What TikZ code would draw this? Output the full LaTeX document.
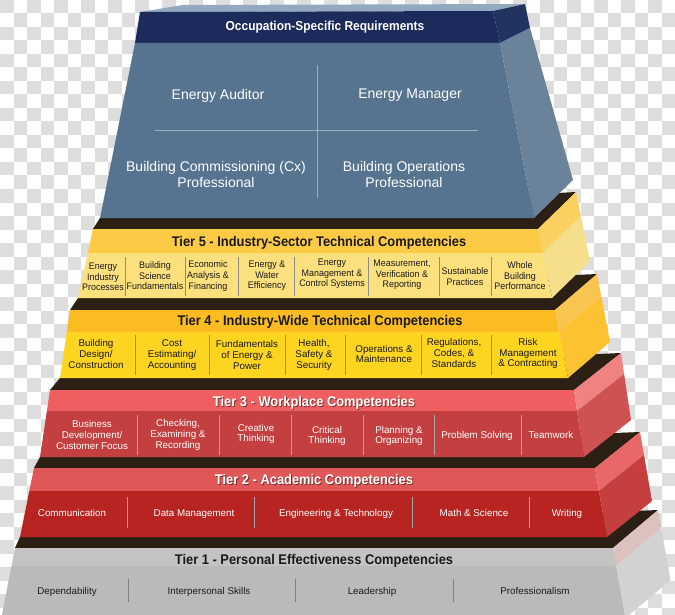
\documentclass[tikz,border=0pt]{standalone}
\usepackage{fontspec}
\setmainfont{Liberation Sans}
\newfontfamily\condf[FakeStretch=0.92]{Liberation Sans}
\newfontfamily\smallf[FakeStretch=0.94]{Liberation Sans}
\definecolor{chk}{HTML}{DDDDDD}
\definecolor{dk}{HTML}{2B2013}
\definecolor{t5h}{HTML}{FDCA45}
\definecolor{t5i}{HTML}{FDE07E}
\definecolor{t5su}{HTML}{FAD060}
\definecolor{t5sl}{HTML}{F5DF8C}
\definecolor{t4h}{HTML}{FBBC22}
\definecolor{t4i}{HTML}{FDD420}
\definecolor{t4su}{HTML}{F8C550}
\definecolor{t4sl}{HTML}{FCC232}
\definecolor{t3h}{HTML}{EF5F5F}
\definecolor{t3i}{HTML}{C43F3F}
\definecolor{t3su}{HTML}{F08282}
\definecolor{t3sl}{HTML}{CF5252}
\definecolor{t2h}{HTML}{DF5757}
\definecolor{t2i}{HTML}{B72422}
\definecolor{t2su}{HTML}{E86868}
\definecolor{t2sl}{HTML}{C63F3F}
\definecolor{t1h}{HTML}{C3C3C3}
\definecolor{t1i}{HTML}{BABABA}
\definecolor{t1su}{HTML}{DCC2BF}
\definecolor{t1sl}{HTML}{D2D2D2}
\definecolor{bltop}{HTML}{93A9BF}
\definecolor{navy}{HTML}{1C2B5B}
\definecolor{navys}{HTML}{22335F}
\definecolor{blf}{HTML}{56738F}
\definecolor{bls}{HTML}{6A839B}
\definecolor{blln}{HTML}{9DB0C3}
\definecolor{txtd}{HTML}{1A1A1A}
\begin{document}
\begin{tikzpicture}[x=1pt,y=-1pt,
  hd/.style={inner sep=0pt, anchor=base, font=\condf\bfseries\fontsize{14}{16}\selectfont},
  hdsh/.style={hd, text=black, opacity=0.45},
  itf/.style={inner sep=0pt, align=center, text=txtd, font=\smallf\fontsize{9.5}{10.6}\selectfont},
  itm/.style={inner sep=0pt, align=center, font=\fontsize{9.8}{10.7}\selectfont},
  itd/.style={itm, text=txtd},
  itw/.style={itm, text=white},
  one/.style={anchor=base},
  bt/.style={inner sep=0pt, align=center, text=white, font=\fontsize{14}{16}\selectfont},
  sepy/.style={draw=black!45, line width=0.9pt},
  sepr/.style={draw=black!35, line width=0.9pt},
  sepg/.style={draw=black!50, line width=0.9pt}]
\useasboundingbox (0,0) rectangle (675,615);
\clip (0,0) rectangle (675,615);
% checkerboard background
\fill[white] (0,0) rectangle (675,615);
\foreach \i in {0,2,...,48}{
  \foreach \j in {0,2,...,44}{
    \fill[chk] (\i*13.5,\j*13.5) rectangle ++(13.5,13.5);
    \fill[chk] (\i*13.5+13.5,\j*13.5+13.5) rectangle ++(13.5,13.5);
  }
}
% ---------------- Tier 1
\fill[dk] (15,548) -- (613,548) -- (658,510) -- (20,537) -- cycle;
\fill[t1h] (15,548) -- (613,548) -- (616.2,566) -- (11.5,566) -- cycle;
\fill[t1i] (11.5,566) -- (616.2,566) -- (625.5,618) -- (1.4,618) -- cycle;
\fill[t1su] (613,548) -- (658,510) -- (661.2,528) -- (616.2,566) -- cycle;
\fill[t1sl] (616.2,566) -- (661.2,528) -- (670.5,580) -- (625.5,618) -- cycle;
\foreach \x in {128,295,453}{\draw[sepg] (\x,579) -- (\x,602);}
\node[hd, text=txtd] (h1) at (314,564) {Tier 1 - Personal Effectiveness Competencies};
\node[itd, one] (a1) at (67,594.5) {Dependability};
\node[itd, one] (a2) at (209,594.5) {Interpersonal Skills};
\node[itd, one] (a3) at (372,594.5) {Leadership};
\node[itd, one] (a4) at (535,594.5) {Professionalism};
% ---------------- Tier 2
\fill[dk] (34,468) -- (595,468) -- (640,432) -- (40,457) -- cycle;
\fill[t2h] (34,468) -- (595,468) -- (599,491) -- (29.3,491) -- cycle;
\fill[t2i] (29.3,491) -- (599,491) -- (607,537) -- (20,537) -- cycle;
\fill[t2su] (595,468) -- (640,432) -- (644,455) -- (599,491) -- cycle;
\fill[t2sl] (599,491) -- (644,455) -- (652,501) -- (607,537) -- cycle;
\foreach \x in {127,254,412,529}{\draw[sepr] (\x,497) -- (\x,528);}
\node[hdsh] (h2s) at (315,485) {Tier 2 - Academic Competencies};
\node[hd, text=white] (h2) at (314,484) {Tier 2 - Academic Competencies};
\node[itw, one] (b1) at (72,516.5) {Communication};
\node[itw, one] (b2) at (194,516.5) {Data Management};
\node[itw, one] (b3) at (336,516.5) {Engineering \& Technology};
\node[itw, one] (b4) at (474,516.5) {Math \& Science};
\node[itw, one] (b5) at (567,516.5) {Writing};
% ---------------- Tier 3
\fill[dk] (50,390) -- (574,390) -- (621,353) -- (60,378) -- cycle;
\fill[t3h] (50,390) -- (574,390) -- (577.1,411) -- (46.9,411) -- cycle;
\fill[t3i] (46.9,411) -- (577.1,411) -- (584,457) -- (40,457) -- cycle;
\fill[t3su] (574,390) -- (621,353) -- (624.1,374) -- (577.1,411) -- cycle;
\fill[t3sl] (577.1,411) -- (624.1,374) -- (631,420) -- (584,457) -- cycle;
\foreach \x in {137,219,291,363,434,521}{\draw[sepr] (\x,415) -- (\x,455);}
\node[hdsh] (h3s) at (315,407) {Tier 3 - Workplace Competencies};
\node[hd, text=white] (h3) at (314,406) {Tier 3 - Workplace Competencies};
\node[itw] (c1) at (92,435) {Business\\Development/\\Customer Focus};
\node[itw] (c2) at (178,435) {Checking,\\Examining \&\\Recording};
\node[itw] (c3) at (256,434) {Creative\\Thinking};
\node[itw] (c4) at (327,436) {Critical\\Thinking};
\node[itw] (c5) at (399,436) {Planning \&\\Organizing};
\node[itw, one] (c6) at (477,438.5) {Problem Solving};
\node[itw, one] (c7) at (551,438.5) {Teamwork};
% ---------------- Tier 4
\fill[dk] (70,310) -- (555,310) -- (597,274) -- (78,298) -- cycle;
\fill[t4h] (70,310) -- (555,310) -- (559.2,332) -- (66.8,332) -- cycle;
\fill[t4i] (66.8,332) -- (559.2,332) -- (568,378) -- (60,378) -- cycle;
\fill[t4su] (555,310) -- (597,274) -- (601.2,296) -- (559.2,332) -- cycle;
\fill[t4sl] (559.2,332) -- (601.2,296) -- (610,342) -- (568,378) -- cycle;
\foreach \x in {135,209,285,345,421,491}{\draw[sepy] (\x,335) -- (\x,375);}
\node[hd, text=txtd] (h4) at (320,325) {Tier 4 - Industry-Wide Technical Competencies};
\node[itd] (d1) at (96,354) {Building\\Design/\\Construction};
\node[itd] (d2) at (172,355) {Cost\\Estimating/\\Accounting};
\node[itd] (d3) at (247,355) {Fundamentals\\of Energy \&\\Power};
\node[itd] (d4) at (314,355) {Health,\\Safety \&\\Security};
\node[itd] (d5) at (384,354) {Operations \&\\Maintenance};
\node[itd] (d6) at (454,353) {Regulations,\\Codes, \&\\Standards};
\node[itd] (d7) at (528,353.5) {Risk\\Management\\\& Contracting};
% ---------------- Tier 5
\fill[dk] (93,229) -- (538,229) -- (576,192) -- (100,218) -- cycle;
\fill[t5h] (93,229) -- (538,229) -- (542.9,253) -- (87.8,253) -- cycle;
\fill[t5i] (87.8,253) -- (542.9,253) -- (552,298) -- (78,298) -- cycle;
\fill[t5su] (538,229) -- (576,192) -- (580.9,216) -- (542.9,253) -- cycle;
\fill[t5sl] (542.9,253) -- (580.9,216) -- (590,261) -- (552,298) -- cycle;
\foreach \x in {125,185,238,294,368,439,491}{\draw[sepy] (\x,257) -- (\x,296);}
\node[hd, text=txtd] (h5) at (319,246) {Tier 5 - Industry-Sector Technical Competencies};
\node[itf] (e1) at (103,277) {Energy\\Industry\\Processes};
\node[itf] (e2) at (155,276) {Building\\Science\\Fundamentals};
\node[itf] (e3) at (208,276) {Economic\\Analysis \&\\Financing};
\node[itf] (e4) at (267,276) {Energy \&\\Water\\Efficiency};
\node[itf] (e5) at (332,274) {Energy\\Management \&\\Control Systems};
\node[itf] (e6) at (402,275) {Measurement,\\Verification \&\\Reporting};
\node[itf] (e7) at (465,276.5) {Sustainable\\Practices};
\node[itf] (e8) at (520,276) {Whole\\Building\\Performance};
% ---------------- Occupation block
\fill[bltop] (140,12) -- (183,5) -- (525,4) -- (493,11) -- cycle;
\fill[navy] (140,12) -- (493,11) -- (500,43) -- (135,43) -- cycle;
\fill[navys] (493,11) -- (525,4) -- (530,28) -- (500,43) -- cycle;
\fill[blf] (135,43) -- (500,43) -- (534,218) -- (100,218) -- cycle;
\fill[bls] (500,43) -- (530,28) -- (573,180) -- (534,218) -- cycle;
\draw[blln, line width=0.8pt] (317,65) -- (317,198);
\draw[blln, line width=0.8pt] (155,130) -- (478,130);
\node[inner sep=0pt, anchor=base, text=white, font=\condf\bfseries\fontsize{13}{15}\selectfont] (oh) at (325,30.7) {Occupation-Specific Requirements};
\node[bt, anchor=base] (o1) at (218,100) {Energy Auditor};
\node[bt, anchor=base] (o2) at (410,99) {Energy Manager};
\node[bt] (o3) at (216,174) {Building Commissioning (Cx)\\Professional};
\node[bt] (o4) at (404,174) {Building Operations\\Professional};
\end{tikzpicture}
\end{document}
